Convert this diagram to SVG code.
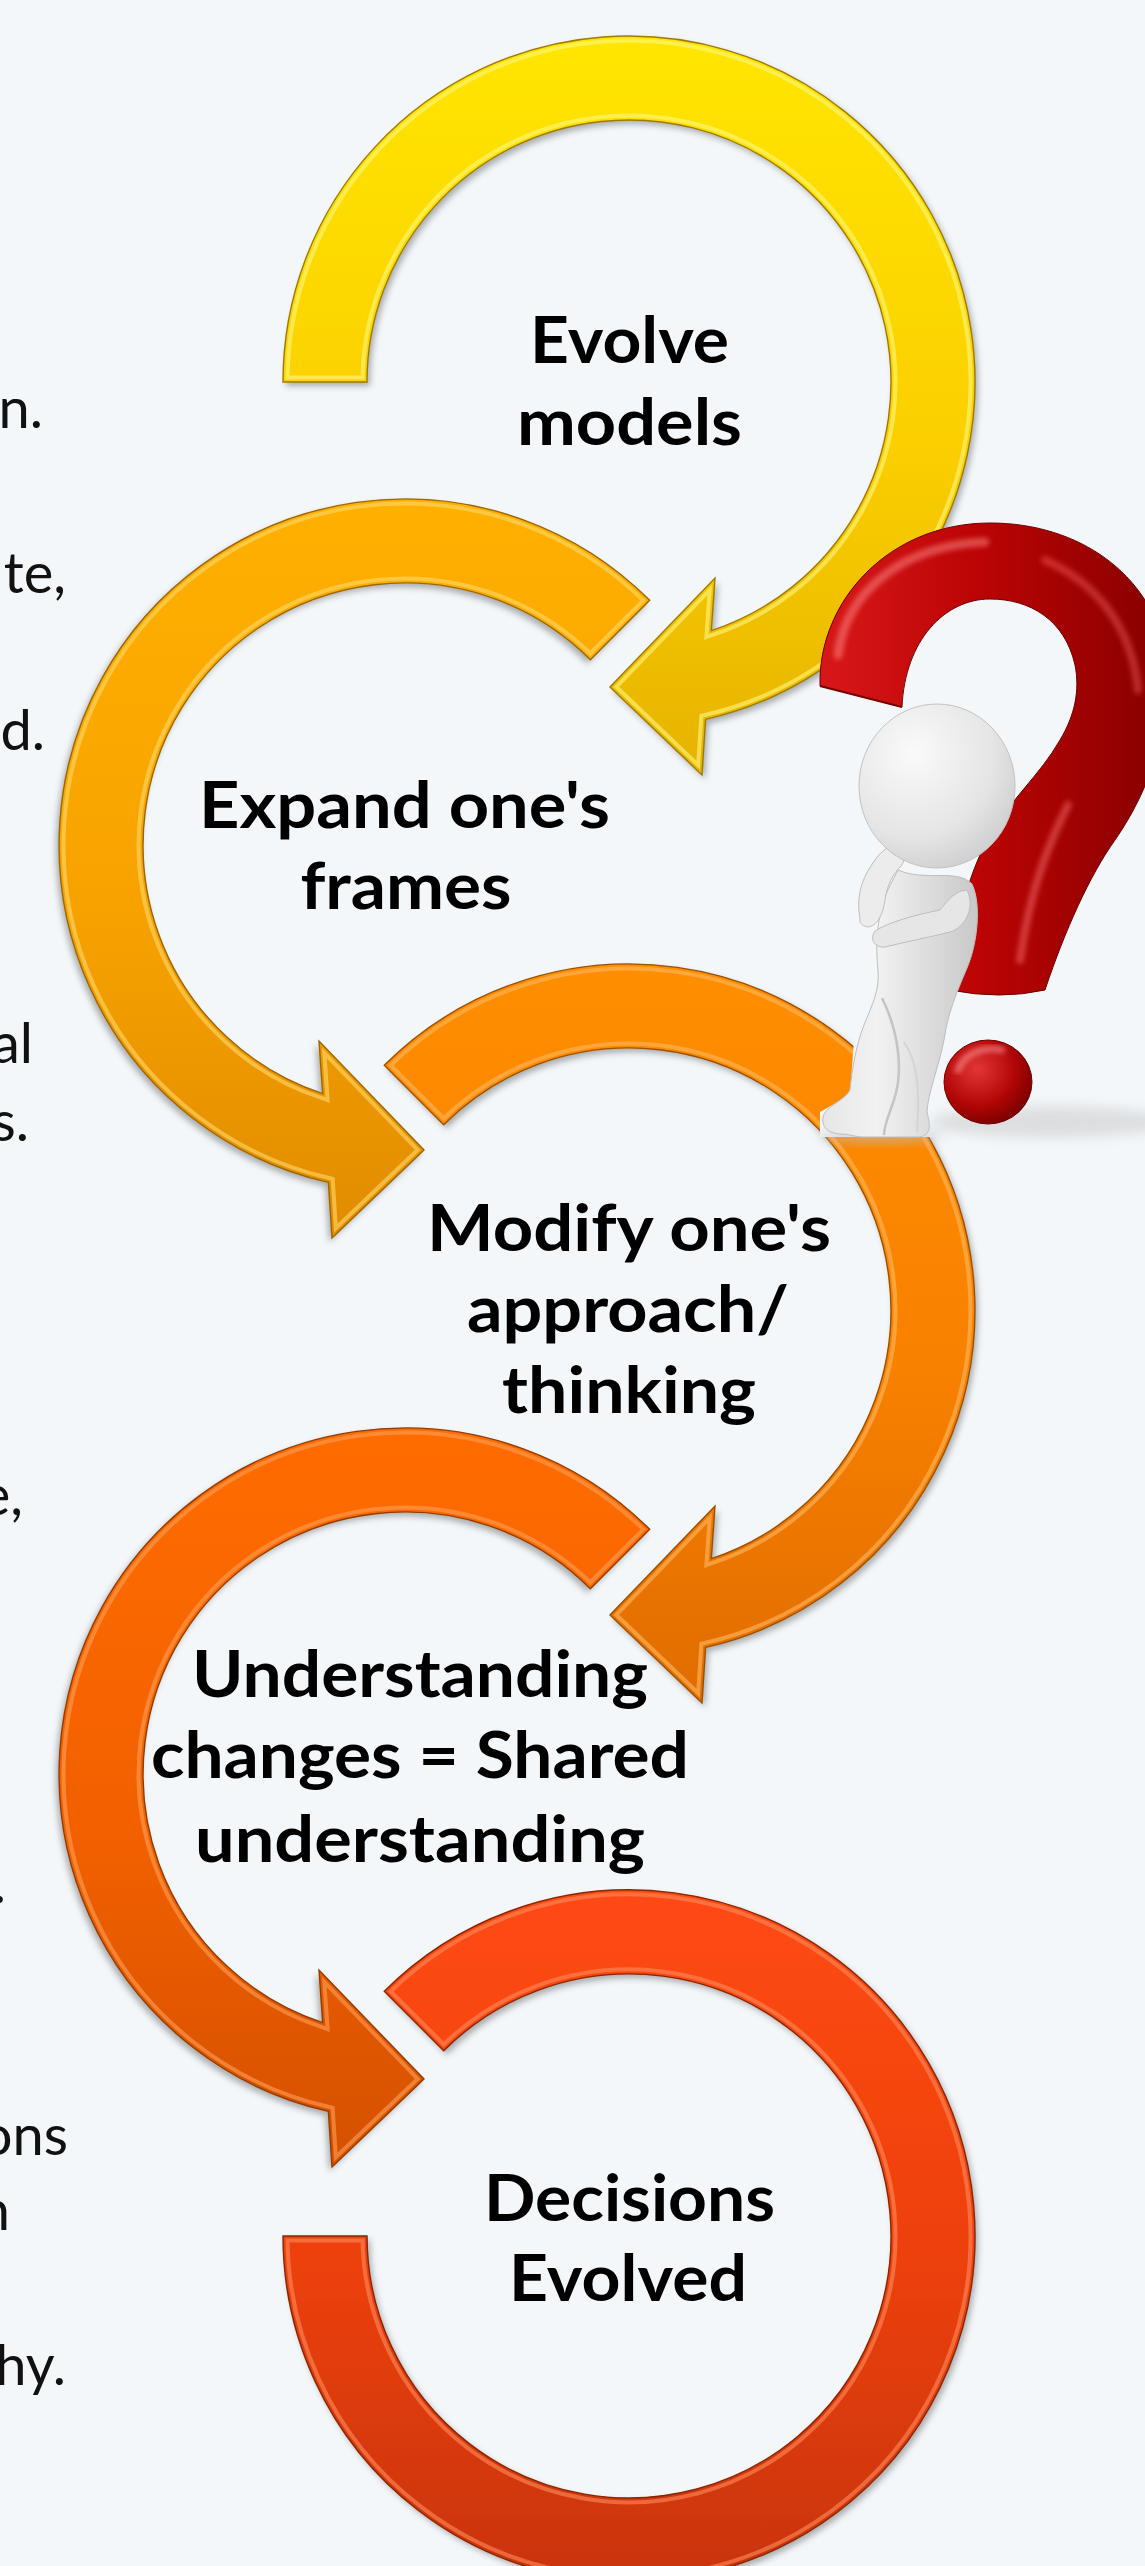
<svg xmlns="http://www.w3.org/2000/svg" xmlns:xlink="http://www.w3.org/1999/xlink" width="1145" height="2566" viewBox="0 0 1145 2566">
<style>
.lbl{font-family:Lato,"Open Sans","Liberation Sans",sans-serif;font-weight:700;font-size:65px;fill:#000;text-anchor:middle}
.frag{font-family:Lato,"Liberation Sans",sans-serif;font-size:56px;fill:#111;text-anchor:end}
.edge{fill:none;stroke-width:1.4}
.hl{fill:none;stroke-width:13;opacity:.6}
.fig{stroke:#BDBDBD;stroke-width:1}
</style>
<defs>
<filter id="sh" x="-10%" y="-10%" width="120%" height="120%">
<feDropShadow dx="3" dy="4" stdDeviation="3" flood-color="#000" flood-opacity="0.3"/>
</filter>
<filter id="blur" x="-20%" y="-50%" width="140%" height="200%"><feGaussianBlur stdDeviation="6"/></filter>
<filter id="soft" x="-20%" y="-20%" width="140%" height="140%"><feGaussianBlur stdDeviation="2.5"/></filter>
<path id="ringA" d="M -346 0 A 346 346 0 1 1 76.6 337.4 L 73 393 L -19 305 L 86 196 L 82.3 248.7 A 262 262 0 1 0 -262 0 Z"/>
<path id="ringB" d="M -244.7 -244.7 A 346 346 0 1 1 76.6 337.4 L 73 393 L -19 305 L 86 196 L 82.3 248.7 A 262 262 0 1 0 -185.3 -185.3 Z"/>
<path id="ringC" d="M -244.7 -244.7 A 346 346 0 1 1 -346 0 L -262 0 A 262 262 0 1 0 -185.3 -185.3 Z"/>
<clipPath id="cA"><use xlink:href="#ringA"/></clipPath>
<clipPath id="cB"><use xlink:href="#ringB"/></clipPath>
<clipPath id="cC"><use xlink:href="#ringC"/></clipPath>
<linearGradient id="g1" x1="0" y1="0" x2="0" y2="1"><stop offset="0" stop-color="#FFE600"/><stop offset=".55" stop-color="#FBCF00"/><stop offset="1" stop-color="#E6B300"/></linearGradient>
<linearGradient id="g2" x1="0" y1="0" x2="0" y2="1"><stop offset="0" stop-color="#FFB000"/><stop offset=".55" stop-color="#F8A200"/><stop offset="1" stop-color="#E08C00"/></linearGradient>
<linearGradient id="g3" x1="0" y1="0" x2="0" y2="1"><stop offset="0" stop-color="#FF8E00"/><stop offset=".55" stop-color="#F88100"/><stop offset="1" stop-color="#E06C00"/></linearGradient>
<linearGradient id="g4" x1="0" y1="0" x2="0" y2="1"><stop offset="0" stop-color="#FF6C00"/><stop offset=".55" stop-color="#F26000"/><stop offset="1" stop-color="#D45000"/></linearGradient>
<linearGradient id="g5" x1="0" y1="0" x2="0" y2="1"><stop offset="0" stop-color="#FF4A12"/><stop offset=".55" stop-color="#EC4010"/><stop offset="1" stop-color="#C8340C"/></linearGradient>
<linearGradient id="qg" x1="0" y1="0" x2="1" y2="0"><stop offset="0" stop-color="#D81818"/><stop offset=".45" stop-color="#BC0404"/><stop offset="1" stop-color="#860000"/></linearGradient>
<radialGradient id="dg" cx=".38" cy=".35" r=".7"><stop offset="0" stop-color="#E23636"/><stop offset=".6" stop-color="#B30606"/><stop offset="1" stop-color="#780000"/></radialGradient>
<radialGradient id="fg" cx=".35" cy=".3" r=".85"><stop offset="0" stop-color="#FAFAFA"/><stop offset=".6" stop-color="#E5E5E5"/><stop offset="1" stop-color="#C6C6C6"/></radialGradient>
<linearGradient id="bg2" x1="0" y1="0" x2="1" y2="0"><stop offset="0" stop-color="#E6E6E6"/><stop offset=".35" stop-color="#F2F2F2"/><stop offset="1" stop-color="#C8C8C8"/></linearGradient>
</defs>
<rect width="1145" height="2566" fill="#F3F7FA"/>

<g id="left-text-fragments">
<text class="frag" x="43" y="428">n.</text>
<text class="frag" x="66" y="593">te,</text>
<text class="frag" x="45" y="750">d.</text>
<text class="frag" x="33" y="1063">al</text>
<text class="frag" x="29" y="1141">s.</text>
<text class="frag" x="23" y="1515">e,</text>
<text class="frag" x="6" y="1903">.</text>
<text class="frag" x="68" y="2155">ons</text>
<text class="frag" x="10" y="2230">n</text>
<text class="frag" x="66" y="2385">hy.</text>
</g>

<g id="connectors">
<g id="arrow1" transform="translate(629,382)">
<use xlink:href="#ringA" fill="url(#g1)" filter="url(#sh)"/>
<use xlink:href="#ringA" class="hl" stroke="#FFF680" clip-path="url(#cA)"/>
<use xlink:href="#ringA" fill="none" stroke="url(#g1)" stroke-width="5" clip-path="url(#cA)"/>
<use xlink:href="#ringA" class="edge" stroke="#A07A00"/>
</g>
<g id="arrow2" transform="translate(405,845) scale(-1,1)">
<use xlink:href="#ringB" fill="url(#g2)" filter="url(#sh)"/>
<use xlink:href="#ringB" class="hl" stroke="#FFD86A" clip-path="url(#cB)"/>
<use xlink:href="#ringB" fill="none" stroke="url(#g2)" stroke-width="5" clip-path="url(#cB)"/>
<use xlink:href="#ringB" class="edge" stroke="#9C6600"/>
</g>
<g id="arrow3" transform="translate(629,1310)">
<use xlink:href="#ringB" fill="url(#g3)" filter="url(#sh)"/>
<use xlink:href="#ringB" class="hl" stroke="#FFB860" clip-path="url(#cB)"/>
<use xlink:href="#ringB" fill="none" stroke="url(#g3)" stroke-width="5" clip-path="url(#cB)"/>
<use xlink:href="#ringB" class="edge" stroke="#9C5000"/>
</g>
<g id="arrow4" transform="translate(405,1774) scale(-1,1)">
<use xlink:href="#ringB" fill="url(#g4)" filter="url(#sh)"/>
<use xlink:href="#ringB" class="hl" stroke="#FF9E55" clip-path="url(#cB)"/>
<use xlink:href="#ringB" fill="none" stroke="url(#g4)" stroke-width="5" clip-path="url(#cB)"/>
<use xlink:href="#ringB" class="edge" stroke="#923C00"/>
</g>
<g id="arrow5" transform="translate(629,2236)">
<use xlink:href="#ringC" fill="url(#g5)" filter="url(#sh)"/>
<use xlink:href="#ringC" class="hl" stroke="#FF8A5A" clip-path="url(#cC)"/>
<use xlink:href="#ringC" fill="none" stroke="url(#g5)" stroke-width="5" clip-path="url(#cC)"/>
<use xlink:href="#ringC" class="edge" stroke="#8A2600"/>
</g>
</g>

<g id="node-evolve-models">
<text class="lbl" x="629.5" y="363" textLength="199" lengthAdjust="spacingAndGlyphs">Evolve</text>
<text class="lbl" x="629.5" y="445" textLength="225" lengthAdjust="spacingAndGlyphs">models</text>
</g>
<g id="node-expand-frames">
<text class="lbl" x="404.5" y="828" textLength="411" lengthAdjust="spacingAndGlyphs">Expand one's</text>
<text class="lbl" x="406" y="909" textLength="211" lengthAdjust="spacingAndGlyphs">frames</text>
</g>
<g id="node-modify-approach">
<text class="lbl" x="629" y="1251" textLength="404" lengthAdjust="spacingAndGlyphs">Modify one's</text>
<text class="lbl" x="628" y="1332" textLength="322" lengthAdjust="spacingAndGlyphs">approach/</text>
<text class="lbl" x="629" y="1413" textLength="254" lengthAdjust="spacingAndGlyphs">thinking</text>
</g>
<g id="node-understanding">
<text class="lbl" x="420" y="1697" textLength="456" lengthAdjust="spacingAndGlyphs">Understanding</text>
<text class="lbl" x="420" y="1778" textLength="538" lengthAdjust="spacingAndGlyphs">changes = Shared</text>
<text class="lbl" x="420" y="1862" textLength="450" lengthAdjust="spacingAndGlyphs">understanding</text>
</g>
<g id="node-decisions">
<text class="lbl" x="629.5" y="2221" textLength="291" lengthAdjust="spacingAndGlyphs">Decisions</text>
<text class="lbl" x="628" y="2301" textLength="238" lengthAdjust="spacingAndGlyphs">Evolved</text>
</g>

<g id="thinking-figure">
<path d="M 858 985 L 1000 985 L 1000 1137 L 820 1137 L 820 1112 L 850 1095 Z" fill="#F3F7FA"/>
<ellipse cx="1050" cy="1122" rx="120" ry="16" fill="#D4D4D4" opacity=".7" filter="url(#blur)"/>
<path d="M 820 686 C 818 600 890 523 990 523 C 1080 523 1150 575 1165 650 C 1175 720 1150 790 1115 840 C 1090 875 1065 930 1045 990 Q 1000 1000 950 990 C 955 930 965 880 990 835 C 1010 800 1040 775 1060 740 C 1075 715 1080 690 1075 665 C 1065 620 1030 599 990 599 C 945 599 905 640 902 707 Z" fill="url(#qg)" stroke="#6E0000" stroke-width="1"/>
<path d="M 838 655 C 846 590 905 545 985 542" fill="none" stroke="#FF8C8C" stroke-width="9" stroke-linecap="round" opacity=".5" filter="url(#soft)"/>
<path d="M 1045 560 C 1100 585 1132 630 1138 690" fill="none" stroke="#FF6A6A" stroke-width="8" stroke-linecap="round" opacity=".4" filter="url(#soft)"/>
<path d="M 1068 805 C 1048 845 1030 890 1020 960" fill="none" stroke="#FF7A7A" stroke-width="8" stroke-linecap="round" opacity=".45" filter="url(#soft)"/>
<path d="M 902 707 L 820 686" stroke="#7A0000" stroke-width="2" fill="none"/>
<ellipse cx="988" cy="1082" rx="44" ry="42" fill="url(#dg)" stroke="#700000" stroke-width="1"/>
<path d="M 958 1070 C 965 1052 985 1046 1002 1050" fill="none" stroke="#FF9A9A" stroke-width="7" stroke-linecap="round" opacity=".55" filter="url(#soft)"/>
<ellipse cx="880" cy="1136" rx="62" ry="6" fill="#BDBDBD" opacity=".7" filter="url(#blur)"/>
<path class="fig" fill="url(#bg2)" d="M 898 870 C 925 882 957 868 972 884 C 982 905 977 945 967 968 C 957 992 948 1012 944 1040 C 938 1070 928 1092 927 1112 C 930 1124 932 1134 920 1137 L 862 1137 C 852 1136 848 1134 840 1134 C 826 1133 820 1125 824 1114 C 830 1104 845 1100 850 1090 C 852 1070 856 1045 864 1025 C 872 1005 880 990 878 970 C 876 950 876 930 882 905 C 887 890 893 880 898 870 Z"/>
<path d="M 882 998 C 898 1030 904 1070 894 1100 C 889 1115 884 1125 884 1135" fill="none" stroke="#C4C4C4" stroke-width="2.5"/>
<path d="M 904 1042 C 918 1062 920 1092 917 1132" fill="none" stroke="#D4D4D4" stroke-width="2"/>
<path class="fig" fill="#E6E6E6" d="M 967 890 C 975 905 967 927 950 932 C 930 937 905 942 885 947 C 875 948 869 940 875 931 C 889 922 915 915 940 910 C 948 900 956 890 967 890 Z"/>
<path class="fig" fill="#ECECEC" d="M 860 918 C 856 900 861 880 871 866 C 877 856 886 845 897 845 C 905 847 907 858 901 866 C 893 874 887 885 885 900 C 883 915 877 926 868 927 C 861 926 859 922 860 918 Z"/>
<ellipse cx="937" cy="786" rx="78" ry="82" fill="url(#fg)" stroke="#C2C2C2" stroke-width="1"/>
</g>
</svg>
